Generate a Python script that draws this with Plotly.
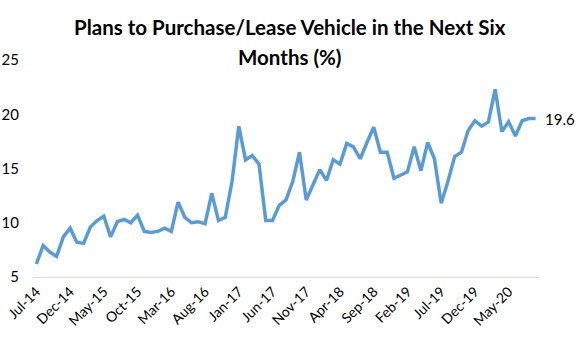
import plotly.graph_objects as go

# --- data ---
months = ["Jul-14","Aug-14","Sep-14","Oct-14","Nov-14","Dec-14","Jan-15","Feb-15","Mar-15","Apr-15",
          "May-15","Jun-15","Jul-15","Aug-15","Sep-15","Oct-15","Nov-15","Dec-15","Jan-16","Feb-16",
          "Mar-16","Apr-16","May-16","Jun-16","Jul-16","Aug-16","Sep-16","Oct-16","Nov-16","Dec-16",
          "Jan-17","Feb-17","Mar-17","Apr-17","May-17","Jun-17","Jul-17","Aug-17","Sep-17","Oct-17",
          "Nov-17","Dec-17","Jan-18","Feb-18","Mar-18","Apr-18","May-18","Jun-18","Jul-18","Aug-18",
          "Sep-18","Oct-18","Nov-18","Dec-18","Jan-19","Feb-19","Mar-19","Apr-19","May-19","Jun-19",
          "Jul-19","Aug-19","Sep-19","Oct-19","Nov-19","Dec-19","Jan-20","Feb-20","Mar-20","Apr-20",
          "May-20","Jun-20","Jul-20","Aug-20","Sep-20"]
values = [6.2, 7.9, 7.3, 6.9, 8.7, 9.5, 8.2, 8.1, 9.6, 10.2,
          10.6, 8.7, 10.1, 10.3, 10.0, 10.7, 9.2, 9.1, 9.2, 9.5,
          9.2, 11.9, 10.5, 10.0, 10.1, 9.9, 12.7, 10.2, 10.5, 13.8,
          18.9, 15.8, 16.2, 15.4, 10.2, 10.2, 11.6, 12.1, 13.8, 16.5,
          12.1, 13.5, 14.9, 13.9, 15.8, 15.4, 17.3, 17.0, 15.9, 17.4,
          18.8, 16.5, 16.5, 14.1, 14.4, 14.7, 17.0, 14.8, 17.4, 15.9,
          11.8, 13.8, 16.1, 16.5, 18.5, 19.4, 18.9, 19.3, 22.3, 18.4,
          19.3, 18.0, 19.4, 19.6, 19.6]
tick_step = 5
y_ticks = [5, 10, 15, 20, 25]
title_lines = ["Plans to Purchase/Lease Vehicle in the Next Six", "Months (%)"]

idx = list(range(len(months)))
tick_idx = idx[::tick_step]
tick_txt = [months[i] for i in tick_idx]

FONT = "Lato"
W, H = 580, 346
ML, MR, MT, MB = 33, 41, 60, 69
PW, PH = W - ML - MR, H - MT - MB

fig = go.Figure()
fig.add_trace(go.Scatter(
    x=idx, y=values, mode="lines",
    line=dict(color="#5b9bd5", width=3.5),
    hoverinfo="skip", showlegend=False,
))

fig.add_annotation(
    x=idx[-1], y=values[-1], text=f"{values[-1]:.1f}",
    showarrow=False, xanchor="left", yanchor="middle", xshift=7,
    font=dict(family=FONT, size=15, color="#000000"),
)

# two-line bold title, centred near the page centre
title_centres_px = [27, 57]
for line, cy in zip(title_lines, title_centres_px):
    fig.add_annotation(
        x=(290 - ML) / PW, y=1 + (MT - cy) / PH, xref="paper", yref="paper",
        text=f"<b>{line}</b>", showarrow=False,
        xanchor="center", yanchor="middle",
        font=dict(family=FONT, size=20.5, color="#000000"),
    )

fig.update_layout(
    width=W, height=H,
    margin=dict(l=ML, r=MR, t=MT, b=MB),
    paper_bgcolor="white", plot_bgcolor="white",
    font=dict(family=FONT, color="#000000"),
)
fig.update_xaxes(
    range=[-0.5, len(idx) - 0.5],
    tickmode="array", tickvals=tick_idx, ticktext=tick_txt,
    tickangle=-45, tickfont=dict(family=FONT, size=14, color="#000000"),
    showgrid=False, zeroline=False,
    showline=True, linecolor="#d9d9d9", linewidth=1,
    ticks="", ticklen=0, automargin=False,
)
fig.update_yaxes(
    range=[5, 25], tickmode="array", tickvals=y_ticks,
    tickfont=dict(family=FONT, size=15, color="#000000"),
    showgrid=False, zeroline=False, showline=False, ticks="",
    ticklabelstandoff=13, automargin=False,
)

fig.write_html("out.html")
